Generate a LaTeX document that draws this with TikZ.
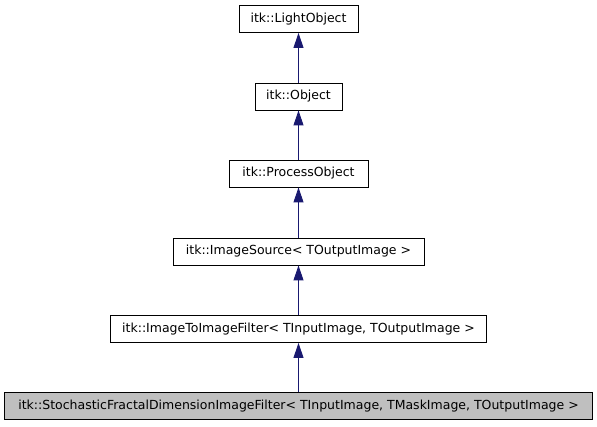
\documentclass[tikz,border=0pt]{standalone}
\usepackage{fontspec}
\setmainfont{DejaVu Sans}
\usetikzlibrary{arrows.meta}
\definecolor{edgeblue}{HTML}{191970}
\begin{document}
\begin{tikzpicture}[x=1pt,y=-1pt,
  cls/.style={draw=black,line width=0.9pt,fill=white,inner sep=0pt,minimum height=27pt,font=\fontsize{12.5}{14}\selectfont},
  cur/.style={cls,fill=black!25},
  inh/.style={draw=edgeblue,line width=0.9pt,-{Triangle[length=15pt,width=10pt]}}]
\useasboundingbox (0,0) rectangle (597,427);
\node[cls,minimum width=119pt] (lo) at (298.5,19) {itk::LightObject};
\node[cls,minimum width=87pt] (ob) at (298.5,96.5) {itk::Object};
\node[cls,minimum width=139pt] (po) at (298.5,173.5) {itk::ProcessObject};
\node[cls,minimum width=251pt] (is) at (298.5,251.5) {itk::ImageSource< TOutputImage >};
\node[cls,minimum width=376pt] (itf) at (298.5,329) {itk::ImageToImageFilter< TInputImage, TOutputImage >};
\node[cur,minimum width=588pt] (sf) at (298.5,406) {itk::StochasticFractalDimensionImageFilter< TInputImage, TMaskImage, TOutputImage >};
\draw[inh] (ob) -- (lo);
\draw[inh] (po) -- (ob);
\draw[inh] (is) -- (po);
\draw[inh] (itf) -- (is);
\draw[inh] (sf) -- (itf);
\end{tikzpicture}
\end{document}
